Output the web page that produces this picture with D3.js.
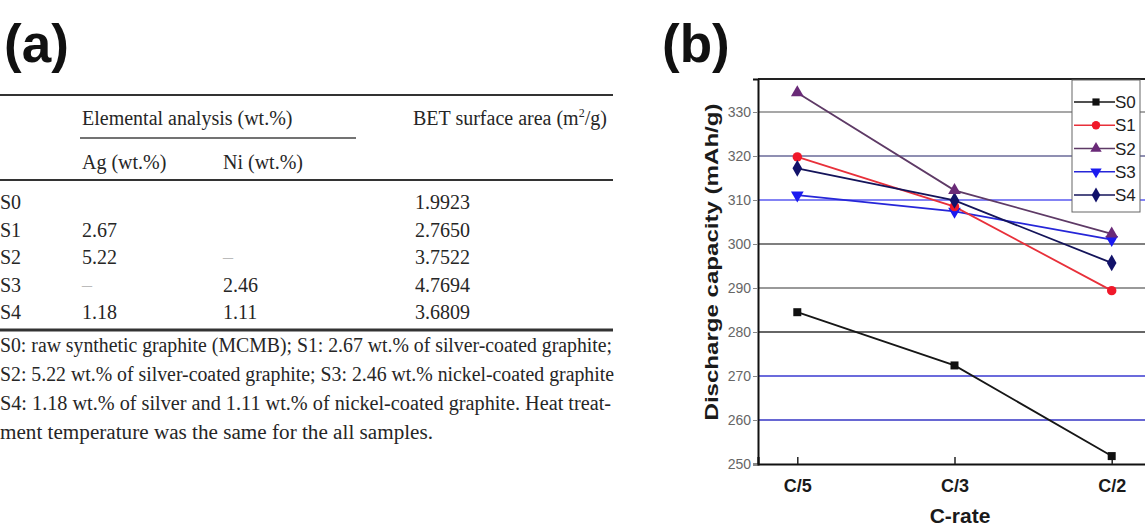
<!DOCTYPE html>
<html><head><meta charset="utf-8">
<script src="https://cdn.jsdelivr.net/npm/d3@7"></script>
<style>
html,body{margin:0;padding:0;background:#fff;}
svg{display:block;}
</style></head>
<body>
<svg id="chart" width="1145" height="527"></svg>
<script>
// ---------- DATA ----------
const samples = ["S0","S1","S2","S3","S4"];
const agValues = ["", "2.67", "5.22", "–", "1.18"];
const niValues = ["", "", "–", "2.46", "1.11"];
const betValues = ["1.9923","2.7650","3.7522","4.7694","3.6809"];
const footnoteLines = [
  "S0: raw synthetic graphite (MCMB); S1: 2.67 wt.% of silver-coated graphite;",
  "S2: 5.22 wt.% of silver-coated graphite; S3: 2.46 wt.% nickel-coated graphite",
  "S4: 1.18 wt.% of silver and 1.11 wt.% of nickel-coated graphite. Heat treat-",
  "ment temperature was the same for the all samples."
];
const cRates = ["C/5","C/3","C/2"];
const seriesNames = ["S0","S1","S2","S3","S4"];
const s0 = [284.5, 272.4, 251.8];
const s1 = [319.8, 308.5, 289.4];
const s2 = [334.4, 312.2, 302.3];
const s3 = [311.1, 307.4, 301.0];
const s4 = [317.2, 309.9, 295.7];
const yTicks = [250, 260, 270, 280, 290, 300, 310, 320, 330];

// ---------- STYLE ----------
const seriesStyle = {
  S0: {color:"#111111", line:"#161616", symbol:d3.symbolSquare, size:64, rot:0},
  S1: {color:"#f0182a", line:"#e8303a", symbol:d3.symbolCircle, size:70, rot:0},
  S2: {color:"#6a2a78", line:"#5e3a66", symbol:d3.symbolTriangle, size:70, rot:0},
  S3: {color:"#1a1af0", line:"#2626d8", symbol:d3.symbolTriangle, size:70, rot:180},
  S4: {color:"#12126a", line:"#14145a", symbol:d3.symbolDiamond, size:80, rot:0}
};
const gridColor = {250:"#222",260:"#3434c4",270:"#3a3ad0",280:"#333",290:"#777",300:"#555",310:"#5a5af0",320:"#6a6a98",330:"#8a8a8a"};

const svg = d3.select("#chart");
const serif = "'Liberation Serif','Times New Roman',serif";
const sans = "'Liberation Sans',Arial,Helvetica,sans-serif";

// ---------- PANEL (a): TABLE ----------
const ga = svg.append("g");
ga.append("text").attr("x",4).attr("y",62).attr("font-family",sans).attr("font-weight","bold")
  .attr("font-size",53).attr("fill","#111").text("(a)");

const rule = (x1,x2,y,w,c) => ga.append("line").attr("x1",x1).attr("x2",x2).attr("y1",y).attr("y2",y)
  .attr("stroke",c||"#333").attr("stroke-width",w);
rule(0,613,95,2);
rule(80,356,138,1.5,"#444");
rule(0,613,180,2);
rule(0,613,330,3,"#333");

const txt = (x,y,s,opts={}) => {
  const t = ga.append("text").attr("x",x).attr("y",y).attr("font-family",serif)
    .attr("font-size",opts.size||20).attr("fill",opts.fill||"#262626").text(s);
  if (opts.len) t.attr("textLength",opts.len).attr("lengthAdjust","spacingAndGlyphs");
  return t;
};
txt(82,125,"Elemental analysis (wt.%)");
const bet = txt(413,125,"BET surface area (m");
bet.append("tspan").attr("font-size",12).attr("dy",-8).text("2");
bet.append("tspan").attr("dy",8).text("/g)");
txt(82,169,"Ag (wt.%)");
txt(223,169,"Ni (wt.%)");

const rowY = d3.scaleLinear().domain([0,4]).range([209,319]);
samples.forEach((s,i)=>{
  const y = rowY(i);
  txt(0,y,s);
  if (agValues[i]) txt(82,y,agValues[i],{fill: agValues[i]==="–" ? "#bbb" : "#262626"});
  if (niValues[i]) txt(223,y,niValues[i],{fill: niValues[i]==="–" ? "#bbb" : "#262626"});
  txt(415,y,betValues[i]);
});
const fnY = [352,381,410,439];
const fnLen = [612,614,611,433];
footnoteLines.forEach((l,i)=> txt(0,fnY[i],l,{len:fnLen[i]}));

// ---------- PANEL (b): CHART ----------
const gb = svg.append("g");
gb.append("text").attr("x",662).attr("y",62).attr("font-family",sans).attr("font-weight","bold")
  .attr("font-size",53).attr("fill","#111").text("(b)");

const plot = {left:758, top:79, right:1151, bottom:464};
const x = d3.scalePoint().domain(cRates).range([plot.left, plot.right]).padding(0.25);
const y = d3.scaleLinear().domain([250, 337.5]).range([plot.bottom, plot.top]);

// gridlines
gb.append("g").selectAll("line").data(yTicks.filter(v=>v>250)).join("line")
  .attr("x1",plot.left).attr("x2",plot.right)
  .attr("y1",d=>y(d)).attr("y2",d=>y(d))
  .attr("stroke",d=>gridColor[d]).attr("stroke-width",1.6);

// frame top
gb.append("line").attr("x1",plot.left).attr("x2",plot.right).attr("y1",plot.top).attr("y2",plot.top)
  .attr("stroke","#222").attr("stroke-width",2);

// y axis
const yAxis = gb.append("g").attr("transform",`translate(${plot.left},0)`)
  .call(d3.axisLeft(y).tickValues(yTicks).tickSize(5).tickPadding(2).tickFormat(d3.format("d")));
yAxis.select(".domain").attr("stroke","#111").attr("stroke-width",2);
yAxis.selectAll(".tick line").attr("stroke","#888");
yAxis.selectAll(".tick text").attr("font-family",sans).attr("font-size",14).attr("fill","#666");

// x axis
const xAxis = gb.append("g").attr("transform",`translate(0,${plot.bottom})`)
  .call(d3.axisBottom(x).tickSize(-7).tickPadding(15));
xAxis.select(".domain").attr("stroke","#111").attr("stroke-width",2.2);
xAxis.selectAll(".tick line").attr("stroke","#222").attr("stroke-width",1.5);
xAxis.selectAll(".tick text").attr("font-family",sans).attr("font-weight","bold")
  .attr("font-size",18).attr("fill","#1a1a1a");

// axis titles
gb.append("text").attr("x",960).attr("y",523).attr("text-anchor","middle")
  .attr("font-family",sans).attr("font-weight","bold").attr("font-size",21).attr("fill","#1a1a1a").text("C-rate");
gb.append("text").attr("transform","translate(718,262) rotate(-90)").attr("text-anchor","middle")
  .attr("font-family",sans).attr("font-weight","bold").attr("font-size",18).attr("fill","#1a1a1a")
  .attr("textLength",317).attr("lengthAdjust","spacingAndGlyphs")
  .text("Discharge capacity (mAh/g)");

// series
const seriesData = {S0:s0, S1:s1, S2:s2, S3:s3, S4:s4};
const line = d3.line().x((d,i)=>x(cRates[i])).y(d=>y(d));
const drawOrder = ["S0","S3","S1","S4","S2"];
drawOrder.forEach(name=>{
  const st = seriesStyle[name];
  gb.append("path").datum(seriesData[name]).attr("d",line)
    .attr("fill","none").attr("stroke",st.line).attr("stroke-width",1.8);
});
drawOrder.forEach(name=>{
  const st = seriesStyle[name];
  gb.append("g").selectAll("path").data(seriesData[name]).join("path")
    .attr("transform",(d,i)=>`translate(${x(cRates[i])},${y(d)}) rotate(${st.rot})`)
    .attr("d",d3.symbol().type(st.symbol).size(st.size)).attr("fill",st.color);
});

// legend
const lg = gb.append("g");
lg.append("rect").attr("x",1072).attr("y",80).attr("width",68).attr("height",132)
  .attr("fill","#fff").attr("stroke","#666").attr("stroke-width",1);
const ly = d3.scalePoint().domain(seriesNames).range([102,195]);
seriesNames.forEach(name=>{
  const st = seriesStyle[name];
  const yy = ly(name);
  lg.append("line").attr("x1",1074).attr("x2",1115).attr("y1",yy).attr("y2",yy)
    .attr("stroke",st.line).attr("stroke-width",1.6);
  lg.append("path").attr("transform",`translate(1096,${yy}) rotate(${st.rot})`)
    .attr("d",d3.symbol().type(st.symbol).size(st.size*0.8)).attr("fill",st.color);
  lg.append("text").attr("x",1115).attr("y",yy+6).attr("font-family",sans).attr("font-size",17)
    .attr("fill","#222").text(name);
});
</script>
</body></html>
